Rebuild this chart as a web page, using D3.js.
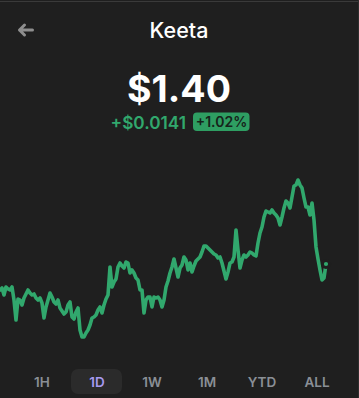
<!DOCTYPE html>
<html>
<head>
<meta charset="utf-8">
<script src="https://cdn.jsdelivr.net/npm/d3@7"></script>
<style>
  html, body { margin: 0; padding: 0; background: #1f1f1f; }
  svg { display: block; font-family: Inter, "Noto Sans", sans-serif; }
</style>
</head>
<body>
<div id="chart"></div>
<script>
// token + header values
var tokenName = "Keeta";
var priceLabel = "$1.40";
var changeLabel = "+$0.0141";
var changePct = "+1.02%";

// time range buttons
var ranges = ["1H", "1D", "1W", "1M", "YTD", "ALL"];
var activeRange = "1D";

// 1D price series (evenly spaced samples)
var prices = [
  1.387, 1.388, 1.3845, 1.3885, 1.3875, 1.387, 1.3885, 1.382, 1.372, 1.3825,
  1.382, 1.3795, 1.383, 1.385, 1.387, 1.3855, 1.3845, 1.385, 1.383, 1.382,
  1.383, 1.3805, 1.373, 1.3785, 1.382, 1.3855, 1.3835, 1.381, 1.380, 1.382,
  1.378, 1.3765, 1.375, 1.376, 1.3795, 1.381, 1.3735, 1.3725, 1.376, 1.378,
  1.367, 1.3635, 1.3635, 1.3655, 1.367, 1.3695, 1.373, 1.3735, 1.3745, 1.377,
  1.3785, 1.3755, 1.3795, 1.3825, 1.3845, 1.3985, 1.3885, 1.391, 1.3925, 1.3985,
  1.4005, 1.399, 1.398, 1.401, 1.4005, 1.3955, 1.397, 1.3955, 1.393, 1.392,
  1.387, 1.387, 1.3755, 1.382, 1.3835, 1.3835, 1.3785, 1.3835, 1.383, 1.3835,
  1.382, 1.3785, 1.382, 1.3885, 1.3915, 1.3955, 1.3985, 1.4025, 1.398, 1.3935,
  1.398, 1.3995, 1.4035, 1.402, 1.397, 1.4005, 1.396, 1.399, 1.4015, 1.4025,
  1.4035, 1.406, 1.409, 1.409, 1.408, 1.407, 1.406, 1.405, 1.4045, 1.403,
  1.4035, 1.4005, 1.3965, 1.3925, 1.396, 1.4005, 1.401, 1.4035, 1.417, 1.407,
  1.398, 1.402, 1.4045, 1.4035, 1.4045, 1.406, 1.4055, 1.4045, 1.404, 1.4105,
  1.4155, 1.4185, 1.4235, 1.4265, 1.426, 1.4255, 1.427, 1.4255, 1.4245, 1.423,
  1.4195, 1.4235, 1.428, 1.4315, 1.4305, 1.428, 1.4335, 1.439, 1.4395, 1.442,
  1.4395, 1.438, 1.433, 1.4285, 1.4285, 1.4245, 1.4305, 1.422, 1.4085, 1.4025,
  1.397, 1.392, 1.393, 1.400
];

var W = 359, H = 398;
var green = "#31a86d";
var bg = "#1f1f1f";

var svg = d3.select("#chart").append("svg")
    .attr("width", W)
    .attr("height", H);

svg.append("rect").attr("width", W).attr("height", H).attr("fill", bg);

// window edges
svg.append("line").attr("x1", 0).attr("x2", W).attr("y1", 1.5).attr("y2", 1.5)
    .attr("stroke", "#3a3a3a").attr("stroke-width", 1);
svg.append("line").attr("x1", W - 0.5).attr("x2", W - 0.5).attr("y1", 0).attr("y2", H)
    .attr("stroke", "#2e2e2e").attr("stroke-width", 1);

// back arrow
svg.append("path")
    .attr("d", "M32.5,30 H19.5 M24.5,25 L19.5,30 L24.5,35")
    .attr("fill", "none")
    .attr("stroke", "#8e8e8e")
    .attr("stroke-width", 3)
    .attr("stroke-linecap", "round")
    .attr("stroke-linejoin", "round");

// title
svg.append("text")
    .attr("x", 179).attr("y", 38)
    .attr("text-anchor", "middle")
    .attr("fill", "#ffffff")
    .attr("font-size", 21.5)
    .attr("font-weight", 500)
    .text(tokenName);

// price
svg.append("text")
    .attr("x", 179).attr("y", 102)
    .attr("text-anchor", "middle")
    .attr("fill", "#ffffff")
    .attr("font-size", 37.5)
    .attr("font-weight", 700)
    .text(priceLabel);

// change
svg.append("text")
    .attr("x", 186).attr("y", 129)
    .attr("text-anchor", "end")
    .attr("fill", green)
    .attr("font-size", 17.2)
    .attr("font-weight", 600)
    .text(changeLabel);

svg.append("rect")
    .attr("x", 193).attr("y", 112.5)
    .attr("width", 56.5).attr("height", 18.5)
    .attr("rx", 4)
    .attr("fill", "#2e9e62");

svg.append("text")
    .attr("x", 221.5).attr("y", 127)
    .attr("text-anchor", "middle")
    .attr("fill", "#16241b")
    .attr("font-size", 14)
    .attr("font-weight", 600)
    .text(changePct);

// scales
var x = d3.scaleLinear()
    .domain([0, prices.length - 1])
    .range([0, 326]);

var y = d3.scaleLinear()
    .domain(d3.extent(prices))
    .range([337, 180]);

var line = d3.line()
    .x(function(d, i) { return x(i); })
    .y(function(d) { return y(d); });

svg.append("path")
    .datum(prices)
    .attr("fill", "none")
    .attr("stroke", green)
    .attr("stroke-width", 3.6)
    .attr("stroke-linejoin", "round")
    .attr("stroke-linecap", "round")
    .attr("d", line);

// last price marker
svg.append("circle")
    .attr("cx", x(prices.length - 1))
    .attr("cy", y(prices[prices.length - 1]))
    .attr("r", 3.6)
    .attr("fill", green)
    .attr("stroke", bg)
    .attr("stroke-width", 3);

// range buttons
var bx = d3.scalePoint()
    .domain(ranges)
    .range([42, 317]);

var btn = svg.append("g").selectAll("g")
    .data(ranges)
    .enter().append("g")
    .attr("transform", function(d) { return "translate(" + bx(d) + ",0)"; });

btn.filter(function(d) { return d === activeRange; })
    .append("rect")
    .attr("x", -26).attr("y", 369)
    .attr("width", 51).attr("height", 25)
    .attr("rx", 7)
    .attr("fill", "#2b2b2b");

btn.append("text")
    .attr("y", 387)
    .attr("text-anchor", "middle")
    .attr("font-size", 13.5)
    .attr("font-weight", 600)
    .attr("fill", function(d) { return d === activeRange ? "#a79af0" : "#8a8f96"; })
    .text(function(d) { return d; });
</script>
</body>
</html>
